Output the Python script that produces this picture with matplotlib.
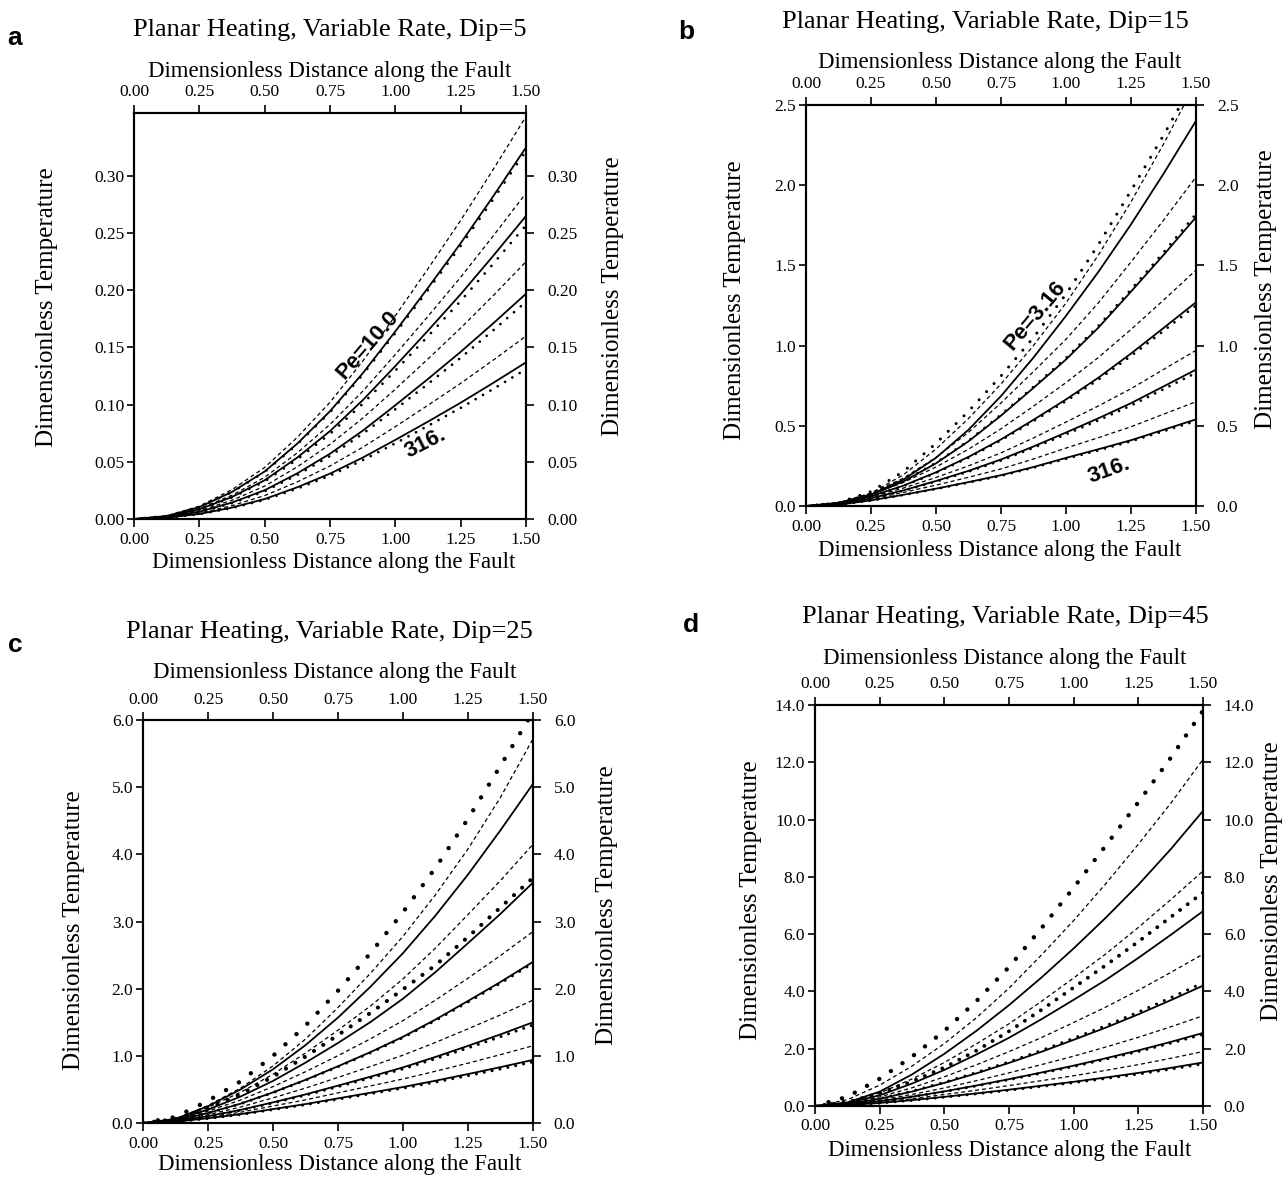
import matplotlib
matplotlib.use("Agg")
import matplotlib.pyplot as plt
from matplotlib.ticker import FixedLocator, FormatStrFormatter

plt.rcParams['font.family'] = ['Liberation Serif', 'DejaVu Serif']

X = [0, 0.125, 0.25, 0.375, 0.5, 0.625, 0.75, 0.875, 1.0, 1.125, 1.25, 1.375, 1.5]
XTICKS = [0, 0.25, 0.5, 0.75, 1.0, 1.25, 1.5]

# panel a, Dip=5 (Pe = 10, 31.6, 100, 316)
A_SOLID = [
    [0, .0026, .0104, .0237, .0416, .066, .0943, .1274, .1641, .2022, .2412, .2824, .325],
    [0, .0021, .0085, .0193, .0339, .0538, .0769, .1039, .1338, .1648, .1966, .2303, .265],
    [0, .0016, .0063, .0144, .0252, .040, .0571, .0772, .0995, .1225, .1462, .1712, .197],
    [0, .0011, .0044, .0100, .0175, .0278, .0397, .0537, .0692, .0852, .1017, .1191, .137],
]
A_DASH = [
    [0, .0028, .0113, .0257, .0451, .0715, .1021, .138, .1778, .2189, .2612, .3059, .352],
    [0, .0023, .0091, .0208, .0365, .0579, .0827, .1117, .1439, .1773, .2115, .2477, .285],
    [0, .0018, .0072, .0164, .0288, .0457, .0653, .0882, .1136, .140, .167, .1955, .225],
    [0, .0013, .0051, .0117, .0205, .0325, .0464, .0627, .0808, .0995, .1187, .139, .160],
]
A_DOTS = [
    [0, .0026, .0103, .0235, .0412, .0654, .0934, .1262, .1626, .2003, .2389, .2798, .322],
    [0, .0021, .0082, .0188, .0329, .0522, .0745, .1007, .1298, .1599, .1907, .2233, .257],
    [0, .0015, .0061, .0139, .0243, .0386, .0551, .0745, .096, .1182, .141, .1651, .190],
    [0, .0010, .0042, .0096, .0168, .0266, .038, .0514, .0662, .0815, .0972, .1138, .131],
]

# panel b, Dip=15 (Pe = 3.16 ... 316)
B_SOLID = [
    [0, .019, .072, .165, .30, .475, .685, .925, 1.185, 1.46, 1.755, 2.07, 2.40],
    [0, .018, .070, .153, .266, .403, .563, .736, .913, 1.112, 1.336, 1.564, 1.80],
    [0, .015, .061, .127, .210, .306, .415, .537, .664, .800, .950, 1.109, 1.27],
    [0, .012, .048, .098, .156, .219, .290, .371, .458, .547, .641, .745, .85],
    [0, .008, .035, .070, .108, .149, .192, .243, .300, .354, .410, .475, .54],
]
B_DASH = [
    [0, .018, .08, .195, .355, .545, .76, 1.0, 1.265, 1.565, 1.895, 2.255, 2.64],
    [0, .021, .080, .174, .303, .459, .642, .838, 1.039, 1.267, 1.521, 1.781, 2.05],
    [0, .018, .071, .147, .243, .354, .481, .622, .769, .926, 1.10, 1.283, 1.47],
    [0, .014, .055, .112, .178, .250, .331, .424, .523, .624, .731, .851, .97],
    [0, .010, .042, .085, .130, .179, .231, .293, .361, .426, .494, .572, .65],
]
B_DOTS = [
    [0, .02, .09, .215, .39, .59, .81, 1.05, 1.32, 1.63, 1.965, 2.31, 2.67],
    [0, .018, .071, .155, .269, .407, .569, .743, .922, 1.123, 1.349, 1.58, 1.82],
    [0, .015, .060, .125, .206, .301, .409, .529, .654, .788, .935, 1.091, 1.25],
    [0, .012, .047, .095, .152, .214, .283, .363, .447, .534, .626, .728, .83],
    [0, .008, .034, .069, .106, .146, .188, .239, .294, .347, .403, .466, .53],
]

# panel c, Dip=25
C_SOLID = [
    [0, .061, .25, .50, .80, 1.16, 1.57, 2.03, 2.53, 3.09, 3.70, 4.36, 5.05],
    [0, .050, .200, .394, .627, .899, 1.192, 1.504, 1.851, 2.248, 2.678, 3.115, 3.58],
    [0, .038, .149, .288, .456, .643, .845, 1.056, 1.284, 1.541, 1.817, 2.10, 2.40],
    [0, .027, .102, .195, .308, .426, .557, .69, .828, .984, 1.149, 1.32, 1.50],
    [0, .019, .071, .132, .207, .282, .367, .451, .536, .63, .729, .832, .94],
]
C_DASH = [
    [0, .06, .26, .52, .85, 1.25, 1.72, 2.23, 2.78, 3.40, 4.08, 4.85, 5.72],
    [0, .058, .232, .457, .726, 1.042, 1.382, 1.743, 2.146, 2.606, 3.104, 3.611, 4.15],
    [0, .046, .177, .342, .542, .764, 1.003, 1.254, 1.525, 1.83, 2.157, 2.494, 2.85],
    [0, .033, .124, .238, .375, .52, .679, .842, 1.01, 1.2, 1.402, 1.61, 1.83],
    [0, .023, .086, .161, .253, .345, .449, .552, .656, .771, .891, 1.018, 1.15],
]
C_DOTS = [
    [0, .09, .33, .62, 1.00, 1.45, 1.97, 2.53, 3.14, 3.80, 4.53, 5.32, 6.12],
    [0, .058, .22, .43, .69, .99, 1.31, 1.64, 1.99, 2.35, 2.77, 3.21, 3.65],
    [0, .038, .148, .286, .452, .638, .838, 1.047, 1.273, 1.528, 1.802, 2.083, 2.38],
    [0, .026, .099, .19, .299, .415, .542, .672, .806, .958, 1.118, 1.285, 1.46],
    [0, .018, .068, .127, .2, .273, .355, .437, .519, .61, .705, .805, .91],
]

# panel d, Dip=45
D_SOLID = [
    [0, .124, .50, 1.10, 1.82, 2.63, 3.52, 4.48, 5.50, 6.58, 7.72, 8.96, 10.3],
    [0, .095, .374, .782, 1.258, 1.802, 2.38, 3.026, 3.706, 4.406, 5.168, 5.97, 6.8],
    [0, .067, .252, .504, .806, 1.142, 1.504, 1.89, 2.31, 2.738, 3.20, 3.692, 4.2],
    [0, .046, .166, .326, .51, .717, .936, 1.168, 1.408, 1.668, 1.941, 2.236, 2.55],
    [0, .03, .106, .205, .319, .441, .57, .707, .844, .996, 1.155, 1.33, 1.52],
]
D_DASH = [
    [0, .218, .726, 1.392, 2.178, 3.086, 4.114, 5.264, 6.474, 7.768, 9.136, 10.563, 12.1],
    [0, .115, .451, .943, 1.517, 2.173, 2.87, 3.649, 4.469, 5.314, 6.232, 7.2, 8.2],
    [0, .085, .318, .636, 1.018, 1.442, 1.897, 2.385, 2.915, 3.456, 4.039, 4.659, 5.3],
    [0, .057, .205, .403, .63, .885, 1.156, 1.443, 1.739, 2.06, 2.397, 2.763, 3.15],
    [0, .038, .133, .257, .399, .551, .713, .884, 1.055, 1.245, 1.444, 1.663, 1.9],
]
D_DOTS = [
    [0, .32, .95, 1.72, 2.62, 3.67, 4.85, 6.20, 7.62, 9.10, 10.6, 12.15, 13.8],
    [0, .134, .447, .857, 1.341, 1.937, 2.608, 3.353, 4.135, 4.917, 5.737, 6.593, 7.45],
    [0, .069, .258, .516, .826, 1.17, 1.539, 1.935, 2.365, 2.804, 3.277, 3.78, 4.3],
    [0, .045, .163, .32, .5, .703, .918, 1.145, 1.38, 1.635, 1.903, 2.193, 2.5],
    [0, .029, .103, .198, .309, .426, .551, .684, .816, .963, 1.117, 1.286, 1.47],
]

A_YTICKS = [0, 0.05, 0.10, 0.15, 0.20, 0.25, 0.30]
B_YTICKS = [0, 0.5, 1.0, 1.5, 2.0, 2.5]
C_YTICKS = [0, 1, 2, 3, 4, 5, 6]
D_YTICKS = [0, 2, 4, 6, 8, 10, 12, 14]

XLAB = 'Dimensionless Distance along the Fault'
YLAB = 'Dimensionless Temperature'
TICKSIZE = 12.5


def dotted(ax, y, size, spacing_px):
    # round-capped zero-length dashes give a row of dots
    gap = spacing_px / 1.389 / size
    ax.plot(X, y, color='k', lw=size, linestyle=(0, (0.01, gap)),
            dash_capstyle='round')


def panel(fig, rect, letter, letter_xy, dip, ylim, yticks, yfmt,
          solids, dashes, dots, dot_style, pos):
    ax = fig.add_axes(rect)
    for y in dashes:
        ax.plot(X, y, color='k', lw=0.9, linestyle=(0, (3.2, 2.4)))
    for y in solids:
        ax.plot(X, y, color='k', lw=1.3)
    for y, (s, sp) in zip(dots, dot_style):
        dotted(ax, y, s, sp)

    ax.set_xlim(0, 1.5)
    ax.set_ylim(*ylim)
    ax.xaxis.set_major_locator(FixedLocator(XTICKS))
    ax.xaxis.set_major_formatter(FormatStrFormatter('%.2f'))
    ax.yaxis.set_major_locator(FixedLocator(yticks))
    ax.yaxis.set_major_formatter(FormatStrFormatter(yfmt))
    ax.tick_params(axis='x', direction='out', length=6, width=1.2, pad=3,
                   labelsize=TICKSIZE, top=True, labeltop=True)
    ax.tick_params(axis='y', direction='out', length=5, width=1.2, pad=2,
                   labelsize=TICKSIZE)
    for sp in ax.spines.values():
        sp.set_linewidth(1.5)

    axr = ax.twinx()
    axr.set_ylim(*ylim)
    axr.yaxis.set_major_locator(FixedLocator(yticks))
    axr.yaxis.set_major_formatter(FormatStrFormatter(yfmt))
    axr.tick_params(axis='y', direction='out', length=6, width=1.2, pad=9,
                    labelsize=TICKSIZE)
    for sp in axr.spines.values():
        sp.set_linewidth(1.5)

    t = ax.transAxes
    ax.text(pos['title'][0], pos['title'][1],
            'Planar Heating, Variable Rate, Dip=%d' % dip,
            transform=t, ha='center', va='center', fontsize=19)
    ax.text(pos['top'][0], pos['top'][1], XLAB, transform=t,
            ha='center', va='center', fontsize=16.5)
    ax.text(pos['bottom'][0], pos['bottom'][1], XLAB, transform=t,
            ha='center', va='center', fontsize=16.5)
    ax.text(pos['left'][0], pos['left'][1], YLAB, transform=t, rotation=90,
            ha='center', va='center', fontsize=18)
    ax.text(pos['right'][0], pos['right'][1], YLAB, transform=t, rotation=90,
            ha='center', va='center', fontsize=18)
    fig.text(letter_xy[0], letter_xy[1], letter, ha='left', va='center',
             fontsize=19, fontweight='bold', family='Liberation Sans')
    return ax


fig = plt.figure(figsize=(12.84, 11.82), dpi=100)

ax_a = panel(fig, [0.1044, 0.5609, 0.3053, 0.3435], 'a', (0.006, 0.968), 5,
             (0, 0.355), A_YTICKS, '%.2f', A_SOLID, A_DASH, A_DOTS,
             [(2.0, 11), (2.0, 10), (2.0, 9), (2.0, 8.5)],
             {'title': (0.5, 1.204), 'top': (0.5, 1.101),
              'bottom': (0.508, -0.108), 'left': (-0.222, 0.522),
              'right': (1.222, 0.55)})
ax_a.text(0.895, 0.152, 'Pe=10.0', rotation=49, ha='center', va='center',
          fontsize=16, fontweight='bold', family='Liberation Sans')
ax_a.text(1.114, 0.0665, '316.', rotation=27, ha='center', va='center',
          fontsize=16, fontweight='bold', family='Liberation Sans')

ax_b = panel(fig, [0.6277, 0.5719, 0.3037, 0.3393], 'b', (0.528, 0.973), 15,
             (0, 2.5), B_YTICKS, '%.1f', B_SOLID, B_DASH, B_DOTS,
             [(2.2, 11), (2.0, 9), (2.0, 8.5), (2.0, 8), (2.0, 8)],
             {'title': (0.459, 1.207), 'top': (0.497, 1.105),
              'bottom': (0.497, -0.11), 'left': (-0.182, 0.514),
              'right': (1.18, 0.54)})
ax_b.text(0.881, 1.185, 'Pe=3.16', rotation=50, ha='center', va='center',
          fontsize=16, fontweight='bold', family='Liberation Sans')
ax_b.text(1.165, 0.224, '316.', rotation=20, ha='center', va='center',
          fontsize=16, fontweight='bold', family='Liberation Sans')

panel(fig, [0.1114, 0.0499, 0.3037, 0.3409], 'c', (0.006, 0.4543), 25,
      (0, 6), C_YTICKS, '%.1f', C_SOLID, C_DASH, C_DOTS,
      [(3.2, 15), (3.0, 11), (2.2, 8.5), (2.2, 8), (2.2, 8)],
      {'title': (0.479, 1.218), 'top': (0.492, 1.117),
       'bottom': (0.505, -0.104), 'left': (-0.176, 0.479),
       'right': (1.19, 0.54)})

panel(fig, [0.6347, 0.0643, 0.3022, 0.3393], 'd', (0.532, 0.4712), 45,
      (0, 14), D_YTICKS, '%.1f', D_SOLID, D_DASH, D_DOTS,
      [(3.2, 14), (2.8, 9.5), (2.2, 8.5), (2.2, 8), (2.2, 8)],
      {'title': (0.49, 1.219), 'top': (0.49, 1.115),
       'bottom': (0.503, -0.11), 'left': (-0.166, 0.514),
       'right': (1.178, 0.56)})

fig.savefig('out.png', dpi=100)
